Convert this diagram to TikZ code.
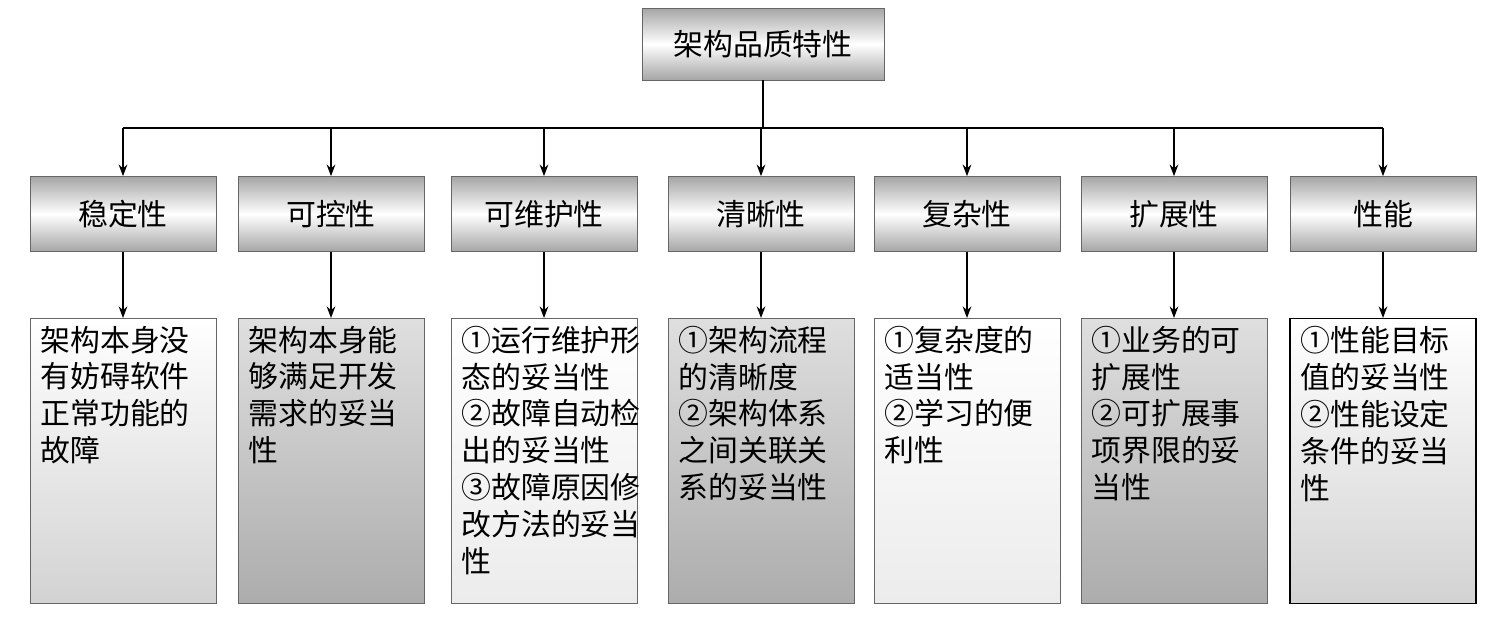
\documentclass[tikz,border=0pt]{standalone}
\usepackage{fontspec}
\setmainfont{Noto Sans CJK SC}
\usetikzlibrary{arrows.meta, positioning}
\newcommand{\dtext}[1]{\parbox[t][5.4cm][t]{3.3cm}{\raggedright #1}}

\begin{document}
\begin{tikzpicture}[
    x=0.02cm, y=-0.02cm,
    >=Stealth,
    font=\fontsize{17}{21}\selectfont,
    head/.style={draw=gray!80!black, minimum width=3.72cm, minimum height=1.5cm,
      top color=gray!70, bottom color=gray!70, middle color=white, inner sep=0pt},
    detail/.style={draw=gray!80!black, minimum width=3.72cm, anchor=north,
      inner xsep=0.2cm, inner ysep=0.15cm},
    lite/.style={detail, top color=white, bottom color=gray!35},
    dark/.style={detail, top color=gray!25, bottom color=gray!65},
    pale/.style={detail, top color=white, bottom color=gray!15},
    flow/.style={->, thick}
  ]
    \useasboundingbox (0,0) rectangle (1499,632);
    \node[head, minimum width=4.84cm, minimum height=1.44cm] (root) at (763,44) {架构品质特性};

    \node[head] (stab) at (123,214) {稳定性};
    \node[head] (ctrl) at (331,214) {可控性};
    \node[head] (main) at (544,214) {可维护性};
    \node[head] (clar) at (761,214) {清晰性};
    \node[head] (cplx) at (967,214) {复杂性};
    \node[head] (ext)  at (1174,214) {扩展性};
    \node[head] (perf) at (1383,214) {性能};

    \node[lite] (dstab) at (123,318) {\dtext{架构本身没\\有妨碍软件\\正常功能的\\故障}};
    \node[dark] (dctrl) at (331,318) {\dtext{架构本身能\\够满足开发\\需求的妥当\\性}};
    \node[pale] (dmain) at (544,318) {\dtext{①运行维护形\\态的妥当性\\②故障自动检\\出的妥当性\\③故障原因修\\改方法的妥当\\性}};
    \node[dark] (dclar) at (761,318) {\dtext{①架构流程\\的清晰度\\②架构体系\\之间关联关\\系的妥当性}};
    \node[pale] (dcplx) at (967,318) {\dtext{①复杂度的\\适当性\\②学习的便\\利性}};
    \node[dark] (dext) at (1174,318) {\dtext{①业务的可\\扩展性\\②可扩展事\\项界限的妥\\当性}};
    \node[lite, draw=black, thick] (dperf) at (1383,318) {\dtext{①性能目标\\值的妥当性\\②性能设定\\条件的妥当\\性}};

    \coordinate (bus) at (763,128);
    \draw[thick] (root) -- (bus);
    \draw[thick] (stab |- bus) -- (perf |- bus);
    \foreach \n in {stab, ctrl, main, clar, cplx, ext, perf}
      \draw[flow] (\n |- bus) -- (\n);
    \draw[flow] (stab) -- (dstab);
    \draw[flow] (ctrl) -- (dctrl);
    \draw[flow] (main) -- (dmain);
    \draw[flow] (clar) -- (dclar);
    \draw[flow] (cplx) -- (dcplx);
    \draw[flow] (ext) -- (dext);
    \draw[flow] (perf) -- (dperf);
  \end{tikzpicture}
\end{document}
